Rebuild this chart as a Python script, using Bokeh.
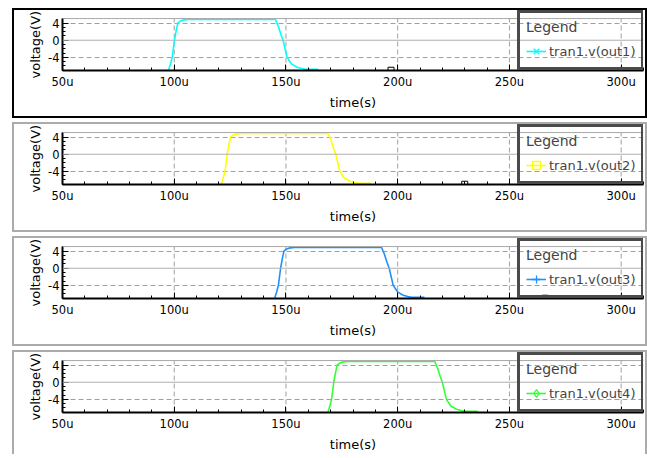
from bokeh.plotting import figure
from bokeh.layouts import column
from bokeh.models import Range1d, FixedTicker, Span, Legend, LegendItem, Title
from bokeh.embed import file_html
from bokeh.resources import INLINE

# ---- data (time in microseconds, voltage in volts) ----
x_major = [50, 100, 150, 200, 250, 300]
x_labels = ["50u", "100u", "150u", "200u", "250u", "300u"]
x_minor = list(range(50, 311, 10))
x_grid = [100, 150, 200, 250, 300]
y_major = [-4, 0, 4]
y_labels = ["-4", "0", "4"]
y_minor = list(range(-7, 6))
y_grid = [-4, 4]

t1 = [97.5, 98.3, 99.1, 100.1, 100.9, 101.6, 102.8, 104.3, 106.4, 145.3, 146.6, 147.7, 148.7, 150.5, 152.4, 155.0, 157.0, 158.7, 164.5]
v1 = [-6.9, -5.6, -4.0, 0.0, 2.3, 4.0, 4.5, 4.75, 4.85, 4.85, 3.2, 1.4, 0.0, -4.0, -5.5, -6.3, -6.6, -6.8, -6.8]
t2 = [121.1, 121.9, 122.7, 123.7, 124.5, 125.2, 126.4, 127.9, 130.0, 168.9, 170.2, 171.3, 172.3, 174.1, 176.0, 178.6, 180.6, 182.3, 188.0]
v2 = [-6.9, -5.6, -4.0, 0.0, 2.3, 4.0, 4.5, 4.75, 4.85, 4.85, 3.2, 1.4, 0.0, -4.0, -5.5, -6.3, -6.6, -6.8, -6.8]
t3 = [145.0, 145.8, 146.6, 147.6, 148.4, 149.1, 150.3, 151.8, 153.9, 192.8, 194.1, 195.2, 196.2, 198.0, 199.9, 202.5, 204.5, 206.2, 212.0]
v3 = [-6.9, -5.6, -4.0, 0.0, 2.3, 4.0, 4.5, 4.75, 4.85, 4.85, 3.2, 1.4, 0.0, -4.0, -5.5, -6.3, -6.6, -6.8, -6.8]
t4 = [168.8, 169.6, 170.4, 171.4, 172.2, 172.9, 174.1, 175.6, 177.7, 216.6, 217.9, 219.0, 220.0, 221.8, 223.7, 226.3, 228.3, 230.0, 235.8]
v4 = [-6.9, -5.6, -4.0, 0.0, 2.3, 4.0, 4.5, 4.75, 4.85, 4.85, 3.2, 1.4, 0.0, -4.0, -5.5, -6.3, -6.6, -6.8, -6.8]

names = ["tran1.v(out1)", "tran1.v(out2)", "tran1.v(out3)", "tran1.v(out4)"]
colors = ["#00FFFF", "#FFFF00", "#1E90FF", "#33FF33"]
legend_markers = ["x", "square", "cross", "diamond"]
tag_t = [197.0, 230.0, 266.0, 279.5]
tag_v = [-7.0, -7.0, -7.0, -7.3]
tag_markers = ["square", "square", "square", "triangle"]
tag_fill = [None, None, "black", None]

series = [(t1, v1), (t2, v2), (t3, v3), (t4, v4)]

# axis extent (plot area) and the extra room above it used by the legend
Y_BOT, Y_TOP, Y_ROOM = -7.06, 5.06, 6.94
X_LO, X_HI = 50, 310

FONT = "DejaVu Sans"
panels = []
for i, (t, v) in enumerate(series):
    last = i == 3
    h = 104 if last else 110
    p = figure(width=635, height=h, x_range=Range1d(X_LO, X_HI), y_range=Range1d(Y_BOT, Y_ROOM),
               output_backend="svg", toolbar_location=None,
               min_border_left=48, min_border_right=6, min_border_top=0,
               min_border_bottom=h - 60, background_fill_color="white",
               border_fill_color=None, margin=(0, 0, 0, 4))
    border_col = "#000000" if i == 0 else "#ababab"
    if last:
        p.styles = {"border-top": f"2px solid {border_col}", "border-left": f"2px solid {border_col}",
                    "border-right": f"2px solid {border_col}"}
    else:
        p.styles = {"border": f"2px solid {border_col}"}
    p.outline_line_color = None

    # axes
    p.xaxis.ticker = FixedTicker(ticks=x_major, minor_ticks=x_minor)
    p.xaxis.major_label_overrides = dict(zip(x_major, x_labels))
    p.yaxis.ticker = FixedTicker(ticks=y_major, minor_ticks=y_minor)
    p.yaxis.major_label_overrides = dict(zip(y_major, y_labels))
    p.yaxis.bounds = (Y_BOT, Y_TOP)
    p.xaxis.axis_label = "time(s)"
    for ax in (p.xaxis[0], p.yaxis[0]):
        ax.axis_line_color = "black"
        ax.axis_line_width = 2
        ax.major_tick_line_color = "black"
        ax.minor_tick_line_color = "black"
        ax.major_tick_in = 6
        ax.major_tick_out = 0
        ax.minor_tick_in = 3
        ax.minor_tick_out = 0
        ax.major_label_text_font = FONT
        ax.major_label_text_font_size = "11.5px"
        ax.major_label_text_color = "black"
        ax.axis_label_text_font = FONT
        ax.axis_label_text_font_size = "13px"
        ax.axis_label_text_font_style = "normal"
        ax.axis_label_text_color = "black"
    p.xaxis.major_label_standoff = 4
    p.xaxis.axis_label_standoff = 3
    p.yaxis.major_label_standoff = 3

    # y axis title, placed in the left side panel (centred on the plot area, not the legend room)
    p.add_layout(Title(text="voltage(V)", align="left", offset=-8, standoff=4,
                       vertical_align="middle", text_font=FONT, text_font_size="13px",
                       text_font_style="normal", text_color="black"), "left")

    # grid: vertical dashed lines only over the plot area
    p.xgrid.grid_line_color = None
    p.segment(x0=x_grid, y0=[Y_BOT] * len(x_grid), x1=x_grid, y1=[Y_TOP] * len(x_grid),
              line_color="#a0a0a0", line_dash="5 3", line_width=1)
    p.ygrid.ticker = FixedTicker(ticks=y_grid)
    p.ygrid.grid_line_color = "#a0a0a0"
    p.ygrid.grid_line_dash = "5 3"
    p.ygrid.grid_line_width = 1
    p.add_layout(Span(location=0, dimension="width", line_color="#b0b0b0", line_width=1))
    p.add_layout(Span(location=Y_TOP, dimension="width", line_color="#a8a8a8", line_width=1))

    # trace
    r_line = p.line(t, v, line_color=colors[i], line_width=1.6)
    r_mark = p.scatter(t, v, marker=legend_markers[i], size=8,
                       line_color=colors[i], fill_color=None, line_width=1.3, visible=False)

    # tag marker on axis
    p.scatter([tag_t[i]], [tag_v[i]], marker=tag_markers[i], size=6, line_color="black",
              fill_color=tag_fill[i], line_width=1)

    legend = Legend(items=[LegendItem(label=names[i], renderers=[r_line, r_mark])],
                    location=(455, 0), title="Legend", margin=0, padding=6,
                    spacing=0, title_standoff=6, label_standoff=3,
                    glyph_width=20, glyph_height=20, label_height=20,
                    background_fill_alpha=0.0, border_line_color="#4a4a4a",
                    border_line_alpha=1.0, border_line_width=3,
                    label_text_font=FONT, label_text_font_size="13px",
                    title_text_font=FONT, title_text_font_size="14px",
                    title_text_font_style="normal", inactive_fill_alpha=0.0)
    p.add_layout(legend)
    panels.append(p)

layout = column(*panels, spacing=4, margin=(8, 0, 0, 8))
open("out.html", "w").write(file_html(layout, INLINE))
